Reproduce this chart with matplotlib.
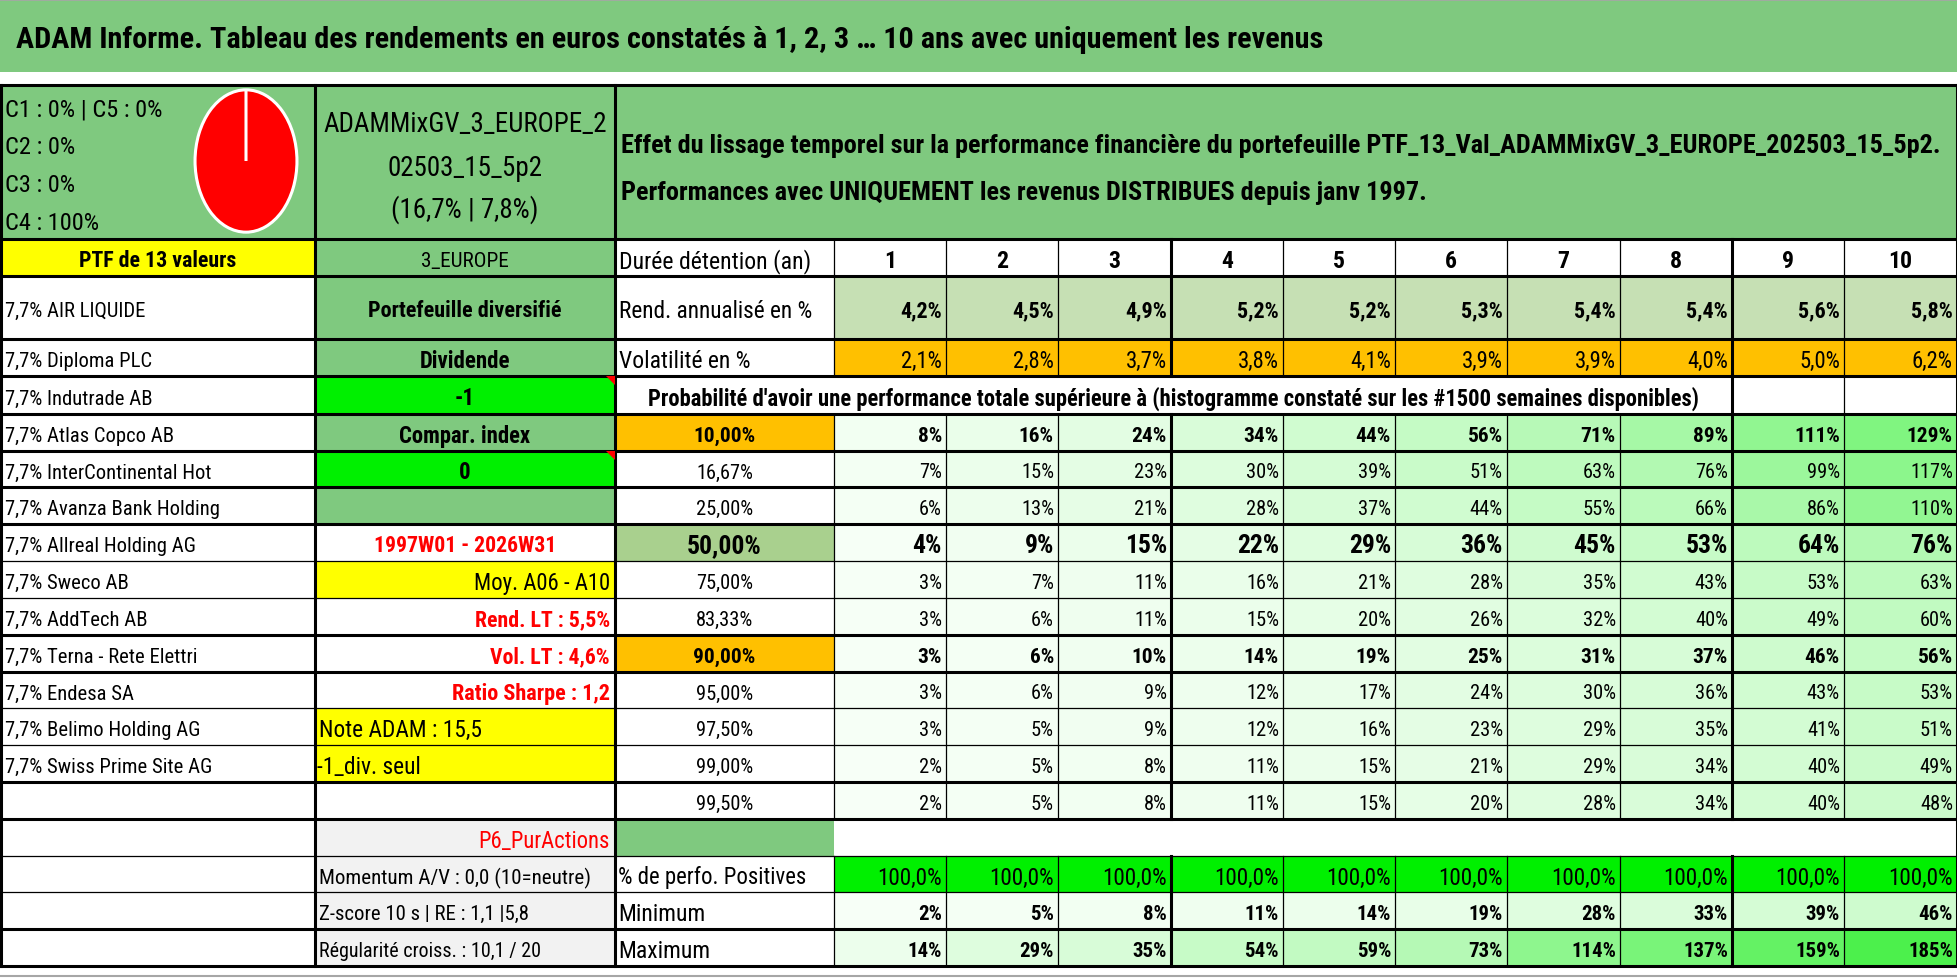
import matplotlib
matplotlib.use('Agg')
import matplotlib.pyplot as plt
from matplotlib.patches import Rectangle, Polygon
from matplotlib.colors import LinearSegmentedColormap, Normalize

FONT = ['DejaVu Sans Condensed', 'Roboto Condensed', 'Noto Sans', 'Lato', 'DejaVu Sans']
STRETCH = 'condensed'

# ---------------- data ----------------
title = "ADAM Informe. Tableau des rendements en euros constatés à 1, 2, 3 … 10 ans avec uniquement les revenus"
header_line1 = ("Effet du lissage temporel sur la performance financière du portefeuille "
                "PTF_13_Val_ADAMMixGV_3_EUROPE_202503_15_5p2.")
header_line2 = "Performances avec UNIQUEMENT les revenus DISTRIBUES depuis janv 1997."
prob_title = ("Probabilité d'avoir une performance totale supérieure à "
              "(histogramme constaté sur les #1500 semaines disponibles)")

class_labels = ["C1 : 0% | C5 : 0%", "C2 : 0%", "C3 : 0%", "C4 : 100%"]
class_names = ["C1", "C2", "C3", "C4", "C5"]
class_weights = [0, 0, 0, 100, 0]
class_colors = ["#4472C4", "#ED7D31", "#A5A5A5", "#FF0000", "#FFC000"]

portfolio_name = ["ADAMMixGV_3_EUROPE_2", "02503_15_5p2", "(16,7% | 7,8%)"]
ptf_label = "PTF de 13 valeurs"
zone_label = "3_EUROPE"

holdings = ["7,7% AIR LIQUIDE", "7,7% Diploma PLC", "7,7% Indutrade AB", "7,7% Atlas Copco AB",
            "7,7% InterContinental Hot", "7,7% Avanza Bank Holding", "7,7% Allreal Holding AG",
            "7,7% Sweco AB", "7,7% AddTech AB", "7,7% Terna - Rete Elettri", "7,7% Endesa SA",
            "7,7% Belimo Holding AG", "7,7% Swiss Prime Site AG"]

years = [1, 2, 3, 4, 5, 6, 7, 8, 9, 10]
rend_annualise = [4.2, 4.5, 4.9, 5.2, 5.2, 5.3, 5.4, 5.4, 5.6, 5.8]
volatilite = [2.1, 2.8, 3.7, 3.8, 4.1, 3.9, 3.9, 4.0, 5.0, 6.2]

percentile_labels = ["10,00%", "16,67%", "25,00%", "50,00%", "75,00%", "83,33%",
                     "90,00%", "95,00%", "97,50%", "99,00%", "99,50%"]
perf_p10 = [8, 16, 24, 34, 44, 56, 71, 89, 111, 129]
perf_p1667 = [7, 15, 23, 30, 39, 51, 63, 76, 99, 117]
perf_p25 = [6, 13, 21, 28, 37, 44, 55, 66, 86, 110]
perf_p50 = [4, 9, 15, 22, 29, 36, 45, 53, 64, 76]
perf_p75 = [3, 7, 11, 16, 21, 28, 35, 43, 53, 63]
perf_p8333 = [3, 6, 11, 15, 20, 26, 32, 40, 49, 60]
perf_p90 = [3, 6, 10, 14, 19, 25, 31, 37, 46, 56]
perf_p95 = [3, 6, 9, 12, 17, 24, 30, 36, 43, 53]
perf_p975 = [3, 5, 9, 12, 16, 23, 29, 35, 41, 51]
perf_p99 = [2, 5, 8, 11, 15, 21, 29, 34, 40, 49]
perf_p995 = [2, 5, 8, 11, 15, 20, 28, 34, 40, 48]

perf_positives = [100.0, 100.0, 100.0, 100.0, 100.0, 100.0, 100.0, 100.0, 100.0, 100.0]
perf_minimum = [2, 5, 8, 11, 14, 19, 28, 33, 39, 46]
perf_maximum = [14, 29, 35, 54, 59, 73, 114, 137, 159, 185]

side_labels = ["Portefeuille diversifié", "Dividende", "-1", "Compar. index", "0", "",
               "1997W01 - 2026W31", "Moy. A06 - A10", "Rend. LT : 5,5%", "Vol. LT : 4,6%",
               "Ratio Sharpe : 1,2", "Note ADAM : 15,5", "-1_div. seul", "",
               "P6_PurActions", "Momentum A/V : 0,0 (10=neutre)",
               "Z-score 10 s | RE : 1,1 |5,8", "Régularité croiss. : 10,1 / 20"]
row_labels = ["Durée détention (an)", "Rend. annualisé en %", "Volatilité en %"]
bottom_labels = ["% de perfo. Positives", "Minimum", "Maximum"]

# ---------------- layout ----------------
W, H = 1958, 979
fig = plt.figure(figsize=(W / 100, H / 100), dpi=100)
ax = fig.add_axes([0, 0, 1, 1])
ax.set_xlim(0, W)
ax.set_ylim(H, 0)
ax.axis('off')
renderer = fig.canvas.get_renderer()

GREEN = '#7FC97F'
BRIGHT = '#00F000'
YELLOW = '#FFFF00'
ORANGE = '#FFC000'
LIGHTG = '#C6E0B4'
MIDG = '#A9D08E'
GRAY = '#F2F2F2'
RED = '#FF0000'

X = [0, 315, 615, 834, 946, 1058, 1171, 1283, 1395, 1507, 1620, 1732, 1844, 1957]
Y = [86, 240, 277, 340, 377, 415, 452, 488, 525, 562, 599, 636, 673, 709, 746,
     783, 820, 857, 893, 930, 967]


def rc(r):
    return (Y[r] + Y[r + 1]) / 2 + 3


def cell(x0, x1, y0, y1, fc):
    ax.add_patch(Rectangle((x0, y0), x1 - x0, y1 - y0, facecolor=fc,
                           edgecolor='none', zorder=1))


def measure(s, weight='normal'):
    t = ax.text(0, 0, s, fontsize=20, fontweight=weight, family=FONT, fontstretch=STRETCH)
    w = t.get_window_extent(renderer).width
    t.remove()
    return w


def fit(s, width, weight='normal'):
    return 20 * width / measure(s, weight)


def txt(x, y, s, size, weight='normal', color='black', ha='left'):
    ax.text(x, y, s, fontsize=size, fontweight=weight, color=color, ha=ha,
            va='center', family=FONT, fontstretch=STRETCH, zorder=5)


# title band
cell(0, W, 0, 73, GREEN)
txt(16, 40, title, fit(title, 1303, 'bold'), 'bold')
ax.plot([0, W], [0.6, 0.6], color='#A6A6A6', lw=1.2, zorder=6)
ax.plot([0, W], [977, 977], color='#A6A6A6', lw=1.5, zorder=6)

# header block
cell(0, X[-1], Y[0], Y[1], GREEN)
s_c = fit(class_labels[0], 158)
for lab, yy in zip(class_labels, [108, 146, 183, 222]):
    txt(5, yy + 2, lab, s_c)
s_p = fit(portfolio_name[0], 283)
for lab, yy in zip(portfolio_name, [122, 166, 208]):
    txt(465, yy + 2, lab, s_p, ha='center')
s_h = fit(header_line1, 1321, 'bold')
txt(621, 146, header_line1, s_h, 'bold')
txt(621, 193, header_line2, s_h, 'bold')

# pie
axp = fig.add_axes([(246 - 53) / W, 1 - 236 / H, 106 / W, 148 / H])
axp.pie(class_weights, colors=class_colors, startangle=90, counterclock=False,
        wedgeprops=dict(edgecolor='white', linewidth=2.2))
axp.set_aspect('auto')
axp.set_xlim(-1.04, 1.04)
axp.set_ylim(-1.04, 1.04)
axp.axis('off')

# column 1
cell(X[0], X[1], Y[1], Y[2], YELLOW)
txt(157.5, rc(1), ptf_label, fit(ptf_label, 157, 'bold'), 'bold', ha='center')
s_n = 0.5 * (fit(holdings[0], 143) + fit(holdings[1], 146))
for i, name in enumerate(holdings):
    txt(5, rc(2 + i), name, s_n)

# column 2
col2_colors = [GREEN, GREEN, GREEN, BRIGHT, GREEN, BRIGHT, GREEN, 'white', YELLOW, 'white',
               'white', 'white', YELLOW, YELLOW, 'white', GRAY, GRAY, GRAY, GRAY]
for r, c in enumerate(col2_colors):
    cell(X[1], X[2], Y[r + 1], Y[r + 2], c)
txt(465, rc(1), zone_label, fit(zone_label, 88), ha='center')
s_div = fit("Dividende", 90, 'bold')
txt(465, rc(2), side_labels[0], fit(side_labels[0], 192, 'bold'), 'bold', ha='center')
txt(465, rc(3), side_labels[1], s_div, 'bold', ha='center')
txt(465, rc(4), side_labels[2], s_div, 'bold', ha='center')
txt(465, rc(5), side_labels[3], fit(side_labels[3], 131, 'bold'), 'bold', ha='center')
txt(465, rc(6), side_labels[4], s_div, 'bold', ha='center')
txt(465, rc(8), side_labels[6], fit(side_labels[6], 182, 'bold'), 'bold', RED, ha='center')
txt(610, rc(9), side_labels[7], fit(side_labels[7], 136), ha='right')
s_lt = fit(side_labels[8], 135, 'bold')
txt(610, rc(10), side_labels[8], s_lt, 'bold', RED, ha='right')
txt(610, rc(11), side_labels[9], s_lt, 'bold', RED, ha='right')
txt(610, rc(12), side_labels[10], fit(side_labels[10], 158, 'bold'), 'bold', RED, ha='right')
txt(319, rc(13), side_labels[11], fit(side_labels[11], 162), ha='left')
txt(317, rc(14), side_labels[12], fit(side_labels[12], 104), ha='left')
txt(610, rc(16), side_labels[14], fit(side_labels[14], 131), color=RED, ha='right')
txt(319, rc(17), side_labels[15], fit(side_labels[15], 272), ha='left')
txt(319, rc(18), side_labels[16], fit(side_labels[16], 210), ha='left')
txt(319, rc(19), side_labels[17], fit(side_labels[17], 222), ha='left')
for r in (4, 6):
    ax.add_patch(Polygon([(X[2] - 9, Y[r]), (X[2], Y[r]), (X[2], Y[r] + 9)],
                         closed=True, facecolor=RED, edgecolor='none', zorder=4))

# label column + data area
cell(X[3], X[-1], Y[2], Y[3], LIGHTG)
cell(X[3], X[-1], Y[3], Y[4], ORANGE)
txt(619, rc(1), row_labels[0], fit(row_labels[0], 191))
txt(619, rc(2), row_labels[1], fit(row_labels[1], 193))
txt(619, rc(3), row_labels[2], fit(row_labels[2], 131))
txt(1173.5, rc(4), prob_title, fit(prob_title, 1049, 'bold'), 'bold', ha='center')

s_year = fit("10", 24, 'bold')
s_rend = fit("4,2%", 42, 'bold')
s_vol = fit("2,1%", 41)
for i in range(10):
    x0, x1 = X[3 + i], X[4 + i]
    txt((x0 + x1) / 2, rc(1), str(years[i]), s_year, 'bold', ha='center')
    txt(x1 - 4, rc(2), f"{rend_annualise[i]:.1f}%".replace('.', ','), s_rend, 'bold', ha='right')
    txt(x1 - 4, rc(3), f"{volatilite[i]:.1f}%".replace('.', ','), s_vol, ha='right')

percentile_rows = [perf_p10, perf_p1667, perf_p25, perf_p50, perf_p75, perf_p8333,
                   perf_p90, perf_p95, perf_p975, perf_p99, perf_p995]
all_vals = [v for row in percentile_rows for v in row] + perf_minimum + perf_maximum
cmap = LinearSegmentedColormap.from_list('wg', ['#F7FFF7', '#4CF04C'])
norm = Normalize(vmin=min(all_vals), vmax=max(all_vals))

s_reg = fit("16,67%", 57)
s_bold = fit("10,00%", 62, 'bold')
s_big = fit("50,00%", 74.6, 'bold')
label_bg = {0: ORANGE, 3: MIDG, 6: ORANGE}
row_style = {0: (s_bold, 'bold'), 3: (s_big, 'bold'), 6: (s_bold, 'bold')}
for k, (lab, vals) in enumerate(zip(percentile_labels, percentile_rows)):
    r = 5 + k
    cell(X[2], X[3], Y[r], Y[r + 1], label_bg.get(k, 'white'))
    size, weight = row_style.get(k, (s_reg, 'normal'))
    txt(724.5, rc(r), lab, size, weight, ha='center')
    for i, v in enumerate(vals):
        x0, x1 = X[3 + i], X[4 + i]
        cell(x0, x1, Y[r], Y[r + 1], cmap(norm(v)))
        txt(x1 - 4, rc(r), f"{v}%", size, weight, ha='right')

cell(X[2], X[3], Y[16], Y[17], GREEN)
s_pos = fit("100,0%", 65)
s_mm = fit("185%", 45, 'bold')
s_bl = fit(bottom_labels[1], 87)
txt(618, rc(17), bottom_labels[0], fit(bottom_labels[0], 188))
txt(618, rc(18), bottom_labels[1], s_bl)
txt(618, rc(19), bottom_labels[2], s_bl)
for i in range(10):
    x0, x1 = X[3 + i], X[4 + i]
    cell(x0, x1, Y[17], Y[18], BRIGHT)
    txt(x1 - 4, rc(17), f"{perf_positives[i]:.1f}%".replace('.', ','), s_pos, ha='right')
    cell(x0, x1, Y[18], Y[19], cmap(norm(perf_minimum[i])))
    txt(x1 - 4, rc(18), f"{perf_minimum[i]}%", s_mm, 'bold', ha='right')
    cell(x0, x1, Y[19], Y[20], cmap(norm(perf_maximum[i])))
    txt(x1 - 4, rc(19), f"{perf_maximum[i]}%", s_mm, 'bold', ha='right')

# ---------------- grid lines ----------------
THICK, THIN = 2.2, 0.9
thin_rows = {562, 599, 709, 746, 857, 893}
for yy in Y:
    ax.plot([0, X[-1]], [yy, yy], color='black', lw=THIN if yy in thin_rows else THICK,
            zorder=3, solid_capstyle='butt')
for xx in (X[0] + 1, X[1], X[2], X[-1]):
    ax.plot([xx, xx], [Y[0], Y[-1]], color='black', lw=THICK, zorder=3)
segs = [(Y[1], Y[4]), (Y[5], Y[16]), (Y[17], Y[20])]
for xx in X[3:-1]:
    lw = THICK if xx in (1171, 1732) else THIN
    for a, b in segs:
        ax.plot([xx, xx], [a, b], color='black', lw=lw, zorder=3)
    if xx in (1732, 1844):
        ax.plot([xx, xx], [Y[4], Y[5]], color='black', lw=lw, zorder=3)

fig.savefig('out.png', dpi=100)
